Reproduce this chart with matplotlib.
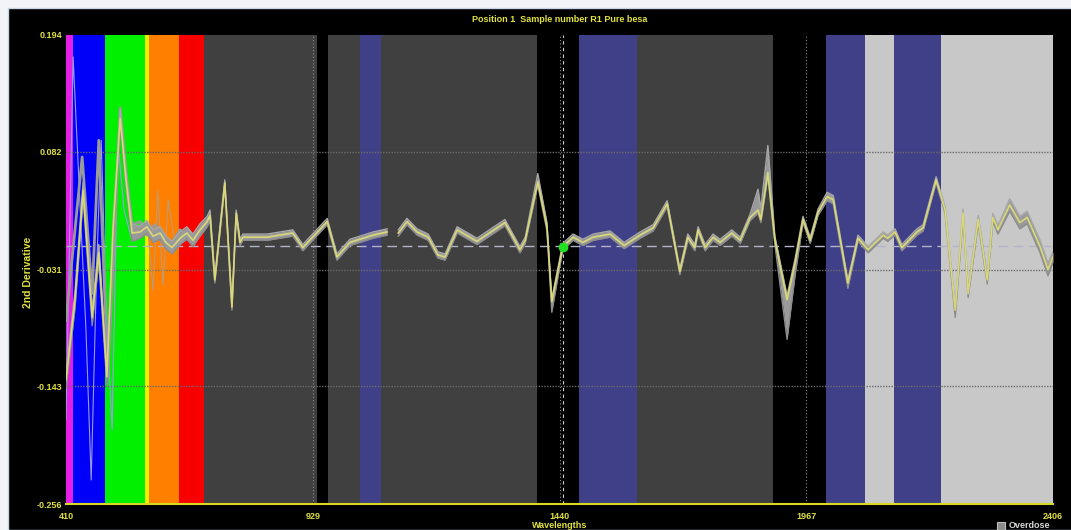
import numpy as np
import matplotlib
matplotlib.use("Agg")
import matplotlib.pyplot as plt
from matplotlib.patches import Rectangle

# axe des x : graduations non uniformes (indices de longueur d'onde)
tick_wl = [410, 929, 1440, 1967, 2406]
tick_y = [0.194, 0.082, -0.031, -0.143, -0.256]
grid_y = [0.082, -0.031, -0.143]
zero_line = -0.0085
cursor_wl = 1447

# bandes de couleur (limites en nm)
band_edges = [410, 425, 492, 576, 585, 648, 700, 938, 961, 1027, 1070,
              1393, 1482, 1606, 1896, 2002, 2072, 2123, 2207, 2406]
band_colors = ['#e41ee4', '#0000f8', '#00f000', '#f0f000', '#ff8000', '#f80000',
               '#404040', '#000000', '#404040', '#404088', '#404040', '#000000',
               '#404088', '#404040', '#000000', '#404088', '#c8c8c8', '#404088',
               '#c8c8c8']

# spectre moyen
wl_main = [410, 429, 446, 465, 479, 496, 509, 524, 536, 549,
           566, 580, 593, 608, 620, 633, 650, 664, 677, 692,
           707, 713, 723, 744, 759, 768, 776, 782, 833, 887,
           908, 959, 979, 1006, 1054, 1083, 1106, 1124, 1145, 1168,
           1188, 1203, 1228, 1269, 1327, 1358, 1369, 1395, 1414, 1424,
           1447, 1469, 1490, 1512, 1548, 1578, 1612, 1640, 1670, 1697,
           1714, 1729, 1736, 1751, 1768, 1783, 1808, 1826, 1847, 1864,
           1870, 1885, 1900, 1926, 1943, 1960, 1974, 1988, 2004, 2015,
           2041, 2059, 2077, 2104, 2112, 2125, 2137, 2164, 2175, 2198,
           2214, 2232, 2246, 2255, 2273, 2289, 2299, 2308, 2329, 2347,
           2360, 2383, 2397, 2406]
val_main = [-0.137, -0.060, 0.045, -0.077, -0.015, -0.134, 0.007, 0.114, 0.055, 0.004,
            0.005, 0.010, 0.001, 0.004, -0.005, -0.010, -0.001, 0.004, -0.003, 0.007,
            0.015, 0.021, -0.041, 0.052, -0.067, 0.023, -0.005, 0.000, 0.000, 0.004,
            -0.010, 0.015, -0.019, -0.005, 0.002, 0.005, 0.004, 0.015, 0.005, 0.000,
            -0.017, -0.019, 0.007, -0.004, 0.014, -0.012, -0.003, 0.053, 0.010, -0.062,
            -0.009, 0.000, -0.005, 0.000, 0.003, -0.008, 0.002, 0.009, 0.032, -0.033,
            0.000, -0.010, 0.007, -0.010, 0.000, -0.005, 0.004, -0.003, 0.019, 0.026,
            0.017, 0.062, -0.003, -0.060, -0.025, 0.017, -0.003, 0.024, 0.039, 0.036,
            -0.044, -0.001, -0.012, 0.002, -0.001, 0.005, -0.010, 0.005, 0.009, 0.055,
            0.026, -0.070, 0.023, -0.054, 0.017, -0.041, 0.019, 0.007, 0.031, 0.014,
            0.019, -0.009, -0.031, -0.019]
# dispersion des echantillons autour du spectre moyen
spread_hi = [0.008, 0.008, 0.008, 0.008, 0.008, 0.008, 0.008, 0.008, 0.008, 0.008,
             0.006, 0.006, 0.006, 0.006, 0.006, 0.006, 0.006, 0.006, 0.006, 0.006,
             0.005, 0.005, 0.003, 0.003, 0.003, 0.003, 0.003, 0.003, 0.003, 0.003,
             0.003, 0.003, 0.003, 0.003, 0.003, 0.003, 0.003, 0.003, 0.003, 0.003,
             0.003, 0.003, 0.003, 0.003, 0.003, 0.003, 0.003, 0.008, 0.004, 0.003,
             0.003, 0.003, 0.003, 0.003, 0.003, 0.003, 0.003, 0.003, 0.003, 0.003,
             0.003, 0.003, 0.003, 0.003, 0.003, 0.003, 0.003, 0.003, 0.003, 0.020,
             0.010, 0.026, 0.004, 0.004, 0.004, 0.003, 0.003, 0.003, 0.004, 0.004,
             0.003, 0.003, 0.003, 0.003, 0.003, 0.003, 0.003, 0.003, 0.003, 0.003,
             0.003, 0.004, 0.004, 0.004, 0.004, 0.004, 0.004, 0.004, 0.006, 0.006,
             0.006, 0.006, 0.006, 0.005]
spread_lo = [0.008, 0.008, 0.008, 0.008, 0.008, 0.008, 0.008, 0.008, 0.008, 0.008,
             0.006, 0.006, 0.006, 0.006, 0.006, 0.006, 0.006, 0.006, 0.006, 0.006,
             0.005, 0.005, 0.003, 0.003, 0.003, 0.003, 0.003, 0.003, 0.003, 0.003,
             0.003, 0.003, 0.003, 0.003, 0.003, 0.003, 0.003, 0.003, 0.003, 0.003,
             0.003, 0.003, 0.003, 0.003, 0.003, 0.003, 0.003, 0.003, 0.004, 0.010,
             0.003, 0.003, 0.003, 0.003, 0.003, 0.003, 0.003, 0.003, 0.003, 0.003,
             0.003, 0.003, 0.003, 0.003, 0.003, 0.003, 0.003, 0.003, 0.003, 0.003,
             0.003, 0.004, 0.004, 0.038, 0.012, 0.003, 0.003, 0.003, 0.004, 0.004,
             0.005, 0.003, 0.003, 0.003, 0.003, 0.003, 0.003, 0.003, 0.003, 0.003,
             0.003, 0.007, 0.004, 0.004, 0.004, 0.004, 0.004, 0.004, 0.006, 0.006,
             0.006, 0.006, 0.006, 0.005]
gap_wl = 1095  # trou dans la courbe

# autres echantillons dans le visible
wl_gray = [410, 444, 465, 479, 498, 524, 536, 549, 566, 580, 597, 614, 633, 650, 671, 692, 709]
val_gray = [-0.080, 0.077, -0.054, 0.093, -0.134, 0.124, 0.064, 0.012, 0.015, 0.002,
            0.012, 0.002, -0.005, 0.007, -0.001, 0.005, 0.018]
wl_thin_a = [410, 425, 439, 452, 463, 475, 484, 494, 507, 519, 532, 549]
val_thin_a = [-0.175, 0.173, 0.036, -0.089, -0.233, -0.022, 0.093, -0.060, -0.185, 0.093, 0.026, -0.003]
wl_thin_b = [582, 593, 603, 614, 625, 641]
val_thin_b = [0.007, -0.051, 0.045, -0.046, 0.036, -0.012]


def fwd(w):
    return np.interp(w, tick_wl, [0, 1, 2, 3, 4])

def inv(p):
    return np.interp(p, [0, 1, 2, 3, 4], tick_wl)


W, H = 1071, 530
fig = plt.figure(figsize=(W / 100, H / 100), dpi=100, facecolor='#f2f4f8')
fig.patches.append(Rectangle((8 / W, 0), 1, (H - 8) / H, transform=fig.transFigure,
                             facecolor='black', edgecolor='#c8d4e8', lw=1, zorder=-1))

ax = fig.add_axes([66 / W, 26 / H, 987 / W, 469 / H])
ax.set_facecolor('black')
ax.set_xscale('function', functions=(fwd, inv))
ax.set_xlim(410, 2406)
ax.set_ylim(-0.256, 0.194)

for i in range(len(band_colors)):
    ax.axvspan(band_edges[i], band_edges[i + 1], color=band_colors[i], lw=0, zorder=0)

for g in grid_y:
    ax.axhline(g, color='#6a6a6a', lw=1, ls=(0, (1, 1)), zorder=1)
for t in tick_wl[1:-1]:
    ax.axvline(t, color='#8a8a8a', lw=0.8, ls=(0, (1, 2)), zorder=1)
ax.axvline(cursor_wl, color='#d0d0d0', lw=0.8, ls=(0, (3, 3)), zorder=1)
ax.axhline(zero_line, color='#b4b4c8', lw=1, ls=(0, (7, 4)), zorder=1)

x = np.array(wl_main, dtype=float)
y = np.array(val_main)
hi = y + np.array(spread_hi)
lo = y - np.array(spread_lo)

ax.plot(wl_thin_a, val_thin_a, color='#9a9ae8', lw=0.8, zorder=2)
ax.plot(wl_thin_b, val_thin_b, color='#c09a70', lw=0.8, zorder=2)
ax.plot(wl_gray, val_gray, color='#9a9a9a', lw=2.0, zorder=3)

for part in (x < gap_wl, x > gap_wl):
    ax.fill_between(x[part], lo[part], hi[part], color='#9a9a9a', lw=0, zorder=3)
    ax.plot(x[part], hi[part], color='#a8a8a8', lw=1.0, zorder=4)
    ax.plot(x[part], lo[part], color='#8c8c8c', lw=1.0, zorder=4)
    ax.plot(x[part], y[part], color='#d8d878', lw=1.2, zorder=5)

ax.plot([cursor_wl], [-0.009], 'o', color='#20e020', ms=6, zorder=6)

for s in ['top', 'right', 'left']:
    ax.spines[s].set_visible(False)
ax.spines['bottom'].set_color('#d8d820')
ax.spines['bottom'].set_linewidth(1.5)

ax.set_yticks(tick_y)
ax.set_yticklabels(['0.194', '0.082', '-0.031', '-0.143', '-0.256'])
ax.set_xticks(tick_wl)
ax.set_xticklabels([str(t) for t in tick_wl])
ax.minorticks_off()
ax.tick_params(length=0, colors='#e0e040', labelsize=6.5, pad=3)
ax.tick_params(axis='x', pad=6)
for lab in ax.get_xticklabels() + ax.get_yticklabels():
    lab.set_fontweight('bold')
    lab.set_fontfamily('Liberation Sans')

tk = dict(color='#e0e040', fontweight='bold', family='Liberation Sans')
fig.text(560 / W, 1 - 20 / H, 'Position 1  Sample number R1 Pure besa', ha='center', va='center', fontsize=6.5, **tk)
fig.text(28 / W, 1 - 272 / H, '2nd Derivative', rotation=90, ha='center', va='center', fontsize=7.5, **tk)
fig.text(560 / W, 1 - 525 / H, 'Wavelengths', ha='center', va='center', fontsize=6.5, **tk)
fig.patches.append(Rectangle((997 / W, 1 - 530 / H), 8 / W, 8 / H, transform=fig.transFigure,
                             facecolor='#8c8c8c', edgecolor='#c0c0c0', lw=0.8))
fig.text(1009 / W, 1 - 526 / H, 'Overdose', ha='left', va='center', fontsize=6.5,
         color='#d8d8d8', fontweight='bold', family='Liberation Sans')

fig.savefig('out.png', dpi=100, facecolor=fig.get_facecolor())
